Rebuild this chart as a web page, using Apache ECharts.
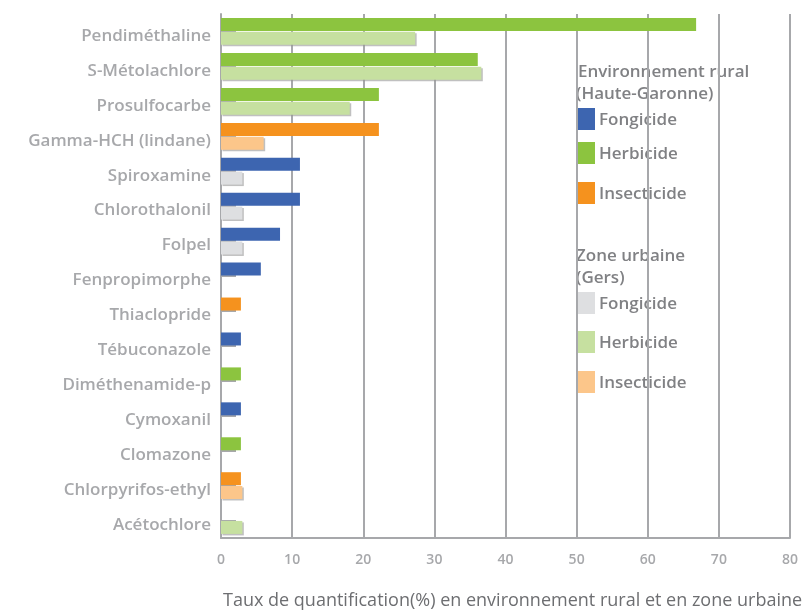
<!DOCTYPE html>
<html>
<head>
<meta charset="utf-8">
<script src="https://cdn.jsdelivr.net/npm/echarts@6/dist/echarts.min.js"></script>
<style>html,body{margin:0;padding:0;background:#fff}#c{width:804px;height:611px}</style>
</head>
<body>
<div id="c"></div>
<script>
var categories = ['Pendiméthaline','S-Métolachlore','Prosulfocarbe','Gamma-HCH (lindane)','Spiroxamine','Chlorothalonil','Folpel','Fenpropimorphe','Thiaclopride','Tébuconazole','Diméthenamide-p','Cymoxanil','Clomazone','Chlorpyrifos-ethyl','Acétochlore'];
var types = ['Herbicide','Herbicide','Herbicide','Insecticide','Fongicide','Fongicide','Fongicide','Fongicide','Insecticide','Fongicide','Herbicide','Fongicide','Herbicide','Insecticide','Herbicide'];
var rural = [66.8, 36.1, 22.2, 22.2, 11.1, 11.1, 8.3, 5.6, 2.8, 2.8, 2.8, 2.8, 2.8, 2.8, 0];
var urban = [27.3, 36.6, 18.1, 6.0, 3.0, 3.0, 3.0, 0, 0, 0, 0, 0, 0, 3.0, 3.0];
var typeNames = ['Fongicide','Herbicide','Insecticide'];
var xTicks = [0,10,20,30,40,50,60,70,80];

var ruralColors = {Fongicide:'#3d65b0', Herbicide:'#8cc43f', Insecticide:'#f5921e'};
var urbanColors = {Fongicide:'#dedfe1', Herbicide:'#c6e0a0', Insecticide:'#fcc68a'};
var gray = '#a7a8ab';
var font = 'Open Sans';

function pick(vals, t){ return vals.map(function(v,i){ return (types[i]===t && v>0) ? v : '-'; }); }

var series = [];
typeNames.forEach(function(t){
  series.push({name:'rural '+t, type:'bar', stack:'rural', barWidth:13, barGap:'6%', data:pick(rural,t), itemStyle:{color:ruralColors[t]}});
});
typeNames.forEach(function(t){
  series.push({name:'urban '+t, type:'bar', stack:'urban', barWidth:13, barGap:'6%', data:pick(urban,t), itemStyle:{color:urbanColors[t], shadowColor:'rgba(150,150,150,0.6)', shadowOffsetX:1.5, shadowOffsetY:1.5}});
});

var graphics = [];
var lf = '600 17px ' + font;
var lc = '#808184';
function txt(x, y, s, f, c){
  graphics.push({type:'text', style:{x:x, y:y, text:s, font:f, fill:c, verticalAlign:'middle', align:'left'}});
}
txt(578, 72, 'Environnement rural', lf, lc);
txt(576, 94, '(Haute-Garonne)', lf, lc);
txt(576, 256, 'Zone urbaine', lf, lc);
txt(576, 278, '(Gers)', lf, lc);
var ry = [108,142,182], uy = [292,331,371];
typeNames.forEach(function(t,i){
  graphics.push({type:'rect', shape:{x:576,y:ry[i],width:19,height:22}, style:{fill:ruralColors[t]}});
  txt(599, ry[i]+12, t, lf, lc);
  graphics.push({type:'rect', shape:{x:576,y:uy[i],width:19,height:22}, style:{fill:urbanColors[t]}});
  txt(599, uy[i]+12, t, lf, lc);
});
txt(223, 601, 'Taux de quantification(%) en environnement rural et en zone urbaine', '18px '+font, '#6d6e71');

var chart = echarts.init(document.getElementById('c'));
chart.setOption({
  animation:false,
  backgroundColor:'#fff',
  grid:{left:221, top:14, right:14, bottom:73, containLabel:false},
  xAxis:{type:'value', min:0, max:80, interval:10,
    axisLine:{show:true, lineStyle:{color:gray, width:2}},
    axisTick:{show:false},
    splitLine:{show:true, lineStyle:{color:gray, width:2}},
    axisLabel:{color:gray, fontFamily:font, fontSize:14, fontWeight:600, margin:15,
      formatter:function(v){ return xTicks.indexOf(v)>=0 ? String(v) : ''; }}
  },
  yAxis:{type:'category', data:categories, inverse:true,
    axisLine:{show:true, lineStyle:{color:gray, width:2}},
    axisTick:{show:true, inside:true, alignWithLabel:true, length:15, lineStyle:{color:gray, width:2}},
    axisLabel:{color:gray, fontFamily:font, fontSize:17, fontWeight:600, margin:10, verticalAlign:'top', lineHeight:9}
  },
  graphic:graphics,
  series:series
});
</script>
</body>
</html>
